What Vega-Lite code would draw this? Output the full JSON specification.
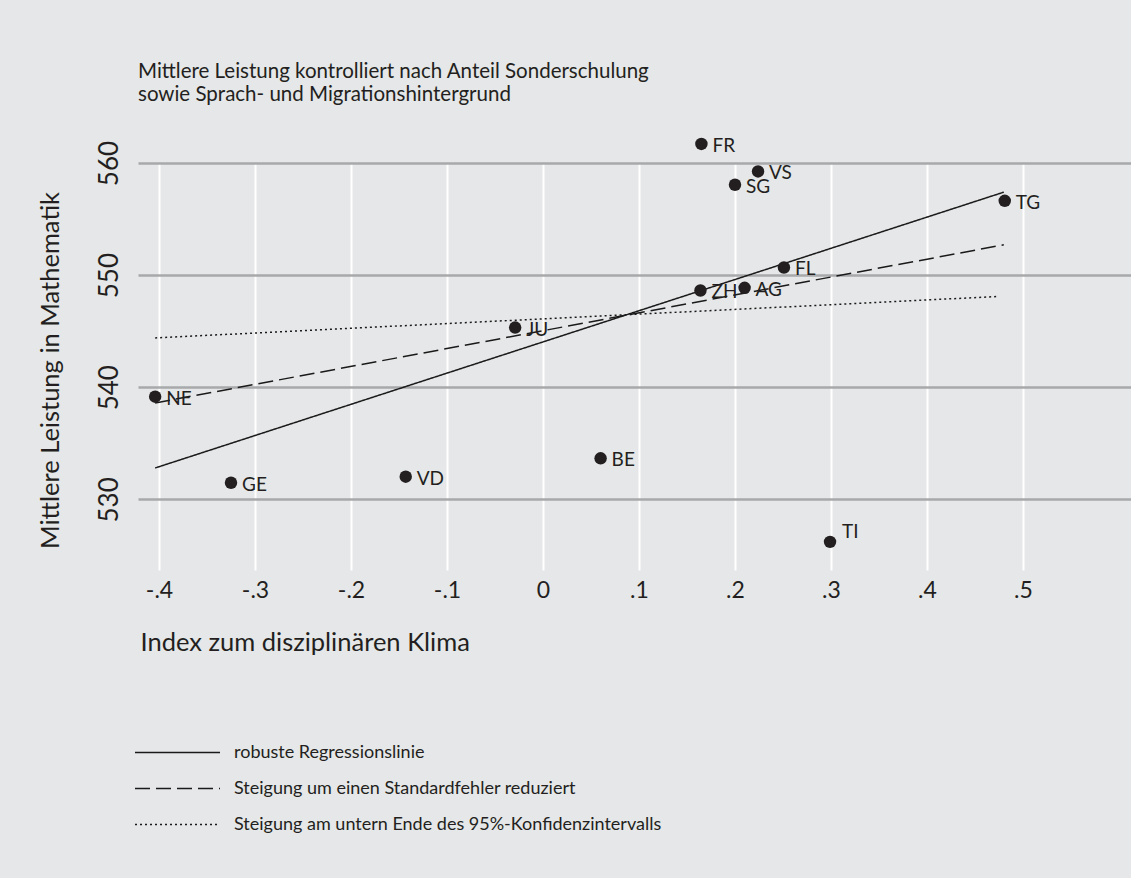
{
  "$schema": "https://vega.github.io/schema/vega-lite/v6.json",
  "width": 993,
  "height": 407,
  "autosize": {"type": "none"},
  "padding": {"left": 138, "top": 163, "right": 0, "bottom": 308},
  "background": "#e6e7e8",
  "config": {"view": {"stroke": null}, "font": "Lato"},
  "title": {
    "text": ["Mittlere Leistung kontrolliert nach Anteil Sonderschulung", "sowie Sprach- und Migrationshintergrund"],
    "anchor": "start",
    "frame": "group",
    "fontSize": 20.5,
    "fontWeight": "normal",
    "color": "#231f20",
    "lineHeight": 23,
    "offset": 31
  },
  "datasets": {
    "lines": [
      {"serie": "robuste Regressionslinie", "x": -0.404, "y": 532.8},
      {"serie": "robuste Regressionslinie", "x": 0.48, "y": 557.4},
      {"serie": "Steigung um einen Standardfehler reduziert", "x": -0.404, "y": 538.6},
      {"serie": "Steigung um einen Standardfehler reduziert", "x": 0.48, "y": 552.7},
      {"serie": "Steigung am untern Ende des 95%-Konfidenzintervalls", "x": -0.404, "y": 544.4},
      {"serie": "Steigung am untern Ende des 95%-Konfidenzintervalls", "x": 0.475, "y": 548.1}
    ],
    "points": [
      {"kanton": "BE", "x": 0.060, "y": 533.66},
      {"kanton": "FL", "x": 0.251, "y": 550.68},
      {"kanton": "FR", "x": 0.165, "y": 561.7},
      {"kanton": "GE", "x": -0.325, "y": 531.48},
      {"kanton": "JU", "x": -0.029, "y": 545.32},
      {"kanton": "NE", "x": -0.404, "y": 539.16},
      {"kanton": "SG", "x": 0.200, "y": 558.06},
      {"kanton": "TG", "x": 0.481, "y": 556.63},
      {"kanton": "TI", "x": 0.299, "y": 526.21},
      {"kanton": "VD", "x": -0.143, "y": 532.02},
      {"kanton": "VS", "x": 0.224, "y": 559.25},
      {"kanton": "ZH", "x": 0.164, "y": 548.63},
      {"kanton": "AG", "x": 0.210, "y": 548.87}
    ]
  },
  "layer": [
    {
      "data": {"name": "lines"},
      "mark": {"type": "line", "strokeWidth": 1.5, "color": "#1a1a1a", "clip": false},
      "encoding": {
        "x": {
          "field": "x", "type": "quantitative",
          "scale": {"domain": [-0.421875, 0.6125], "nice": false, "zero": false},
          "axis": {
            "values": [-0.4, -0.3, -0.2, -0.1, 0, 0.1, 0.2, 0.3, 0.4, 0.5],
            "labelExpr": "datum.value == 0 ? '0' : (datum.value < 0 ? '-' : '') + '.' + round(abs(datum.value) * 10)",
            "grid": true, "gridColor": "#ffffff", "gridWidth": 2, "gridOpacity": 1,
            "domain": false, "ticks": false, "tickSize": 0,
            "labelFontSize": 23, "labelColor": "#231f20", "labelBaseline": "alphabetic", "labelPadding": 27,
            "labelFlush": false,
            "title": "Index zum disziplinären Klima",
            "titleFontSize": 25.5, "titleFontWeight": "normal", "titleColor": "#231f20",
            "titleAlign": "left", "titleBaseline": "alphabetic", "titleX": 2, "titleY": 80
          }
        },
        "y": {
          "field": "y", "type": "quantitative",
          "scale": {"domain": [523.7, 560], "nice": false, "zero": false},
          "axis": {
            "values": [530, 540, 550, 560],
            "grid": true, "gridColor": "#a7a9ab", "gridWidth": 2.5, "gridOpacity": 1,
            "domain": false, "ticks": false, "tickSize": 0,
            "labelFontSize": 26, "labelColor": "#231f20", "labelAngle": 270,
            "labelAlign": "center", "labelBaseline": "alphabetic", "labelPadding": 21,
            "title": "Mittlere Leistung in Mathematik",
            "titleFontSize": 25.5, "titleFontWeight": "normal", "titleColor": "#231f20",
            "titleAngle": 270, "titleAlign": "center", "titleBaseline": "alphabetic",
            "titleX": -80, "titleY": 207
          }
        },
        "strokeDash": {
          "field": "serie", "type": "nominal",
          "scale": {
            "domain": ["robuste Regressionslinie", "Steigung um einen Standardfehler reduziert", "Steigung am untern Ende des 95%-Konfidenzintervalls"],
            "range": [[1, 0], [15, 6], [2, 3]]
          },
          "legend": {
            "title": null,
            "orient": "none",
            "legendX": 30,
            "legendY": 580,
            "symbolType": "M-5,0H5",
            "symbolSize": 289,
            "symbolStrokeWidth": 1.5,
            "symbolStrokeColor": "#1a1a1a",
            "labelFontSize": 18,
            "labelColor": "#231f20",
            "labelOffset": 47,
            "rowPadding": 17,
            "labelLimit": 700
          }
        }
      }
    },
    {
      "data": {"name": "points"},
      "mark": {"type": "circle", "size": 155, "opacity": 1, "color": "#231f20", "clip": false},
      "encoding": {
        "x": {"field": "x", "type": "quantitative"},
        "y": {"field": "y", "type": "quantitative"}
      }
    },
    {
      "data": {"name": "points"},
      "transform": [{"filter": "datum.kanton != 'TI'"}],
      "mark": {"type": "text", "align": "left", "baseline": "middle", "dx": 11, "dy": 2, "fontSize": 19, "color": "#231f20", "clip": false},
      "encoding": {
        "x": {"field": "x", "type": "quantitative"},
        "y": {"field": "y", "type": "quantitative"},
        "text": {"field": "kanton"}
      }
    },
    {
      "data": {"name": "points"},
      "transform": [{"filter": "datum.kanton == 'TI'"}],
      "mark": {"type": "text", "align": "left", "baseline": "middle", "dx": 12, "dy": -10, "fontSize": 19, "color": "#231f20", "clip": false},
      "encoding": {
        "x": {"field": "x", "type": "quantitative"},
        "y": {"field": "y", "type": "quantitative"},
        "text": {"field": "kanton"}
      }
    }
  ]
}
